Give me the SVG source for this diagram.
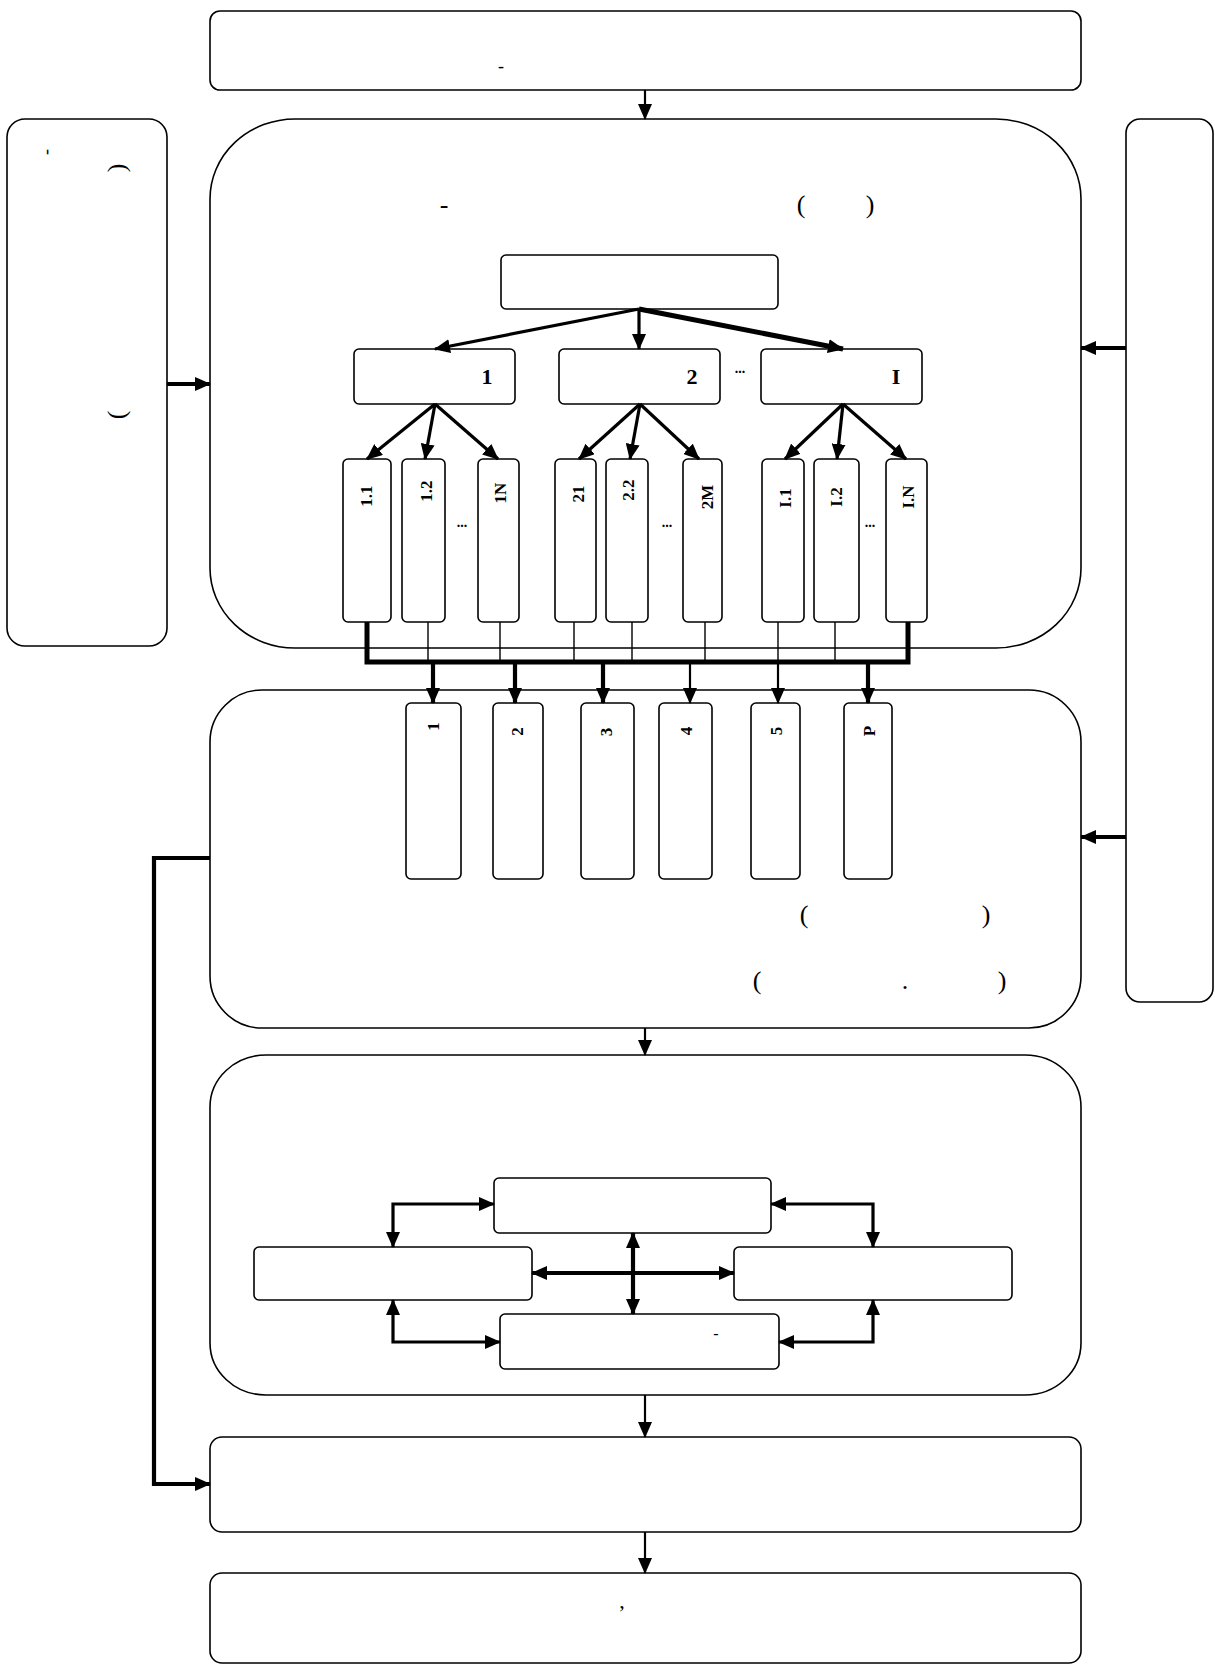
<svg xmlns="http://www.w3.org/2000/svg" width="1215" height="1666" viewBox="0 0 1215 1666">
  <style>
    .box { fill: #fff; stroke: #000; stroke-width: 1.6; }
    .t { font-family: "Liberation Serif", "Times New Roman", serif; fill: #000; }
    .b { font-weight: bold; }
    .lf { font-size: 17px; font-weight: bold; }
    .cn { fill: none; stroke: #000; stroke-linejoin: miter; }
    .w2 { stroke-width: 2.2; }
    .w3 { stroke-width: 3.2; }
    .w4 { stroke-width: 4.2; }
    .w5 { stroke-width: 5; }
    .thin { stroke-width: 1.4; }
  </style>
  <defs>
    <marker id="ah" viewBox="0 0 16 14" markerWidth="16" markerHeight="14" refX="15" refY="7" orient="auto-start-reverse" markerUnits="userSpaceOnUse">
      <path d="M0,0 L16,7 L0,14 z" fill="#000"/>
    </marker>
  </defs>

  <rect width="1215" height="1666" fill="#fff"/>

  <!-- top block -->
  <g id="n-top">
    <rect class="box" x="210" y="11" width="871" height="79" rx="10"/>
    <text class="t" x="501" y="72" font-size="18" text-anchor="middle" font-family="Liberation Sans, Arial, sans-serif">-</text>
  </g>

  <!-- left side block (vertical text) -->
  <g id="n-left">
    <rect class="box" x="7" y="119" width="160" height="527" rx="18"/>
    <text class="t" transform="translate(51.5,152) rotate(-90)" font-size="18" text-anchor="middle">-</text>
    <text class="t" transform="translate(125,168) rotate(-90)" font-size="26" text-anchor="middle">)</text>
    <text class="t" transform="translate(125,415) rotate(-90)" font-size="26" text-anchor="middle">(</text>
  </g>

  <!-- right side block -->
  <g id="n-right">
    <rect class="box" x="1126" y="119" width="87" height="883" rx="14"/>
  </g>

  <!-- main block 1 with hierarchy -->
  <g id="n-main1">
    <rect class="box" x="210" y="119" width="871" height="529" rx="85" ry="80"/>
    <text class="t" x="444" y="213" font-size="26" text-anchor="middle">-</text>
    <text class="t" x="801" y="213" font-size="26" text-anchor="middle">(</text>
    <text class="t" x="870" y="213" font-size="26" text-anchor="middle">)</text>
  </g>
  <g id="n-root">
    <rect class="box" x="501" y="255" width="277" height="54" rx="5"/>
  </g>
  <g id="n-g1">
    <rect class="box" x="354" y="349" width="161" height="55" rx="5"/>
    <text class="t b" x="487" y="384" font-size="22" text-anchor="middle">1</text>
  </g>
  <g id="n-g2">
    <rect class="box" x="559" y="349" width="161" height="55" rx="5"/>
    <text class="t b" x="692" y="384" font-size="22" text-anchor="middle">2</text>
  </g>
  <text class="t b" x="740" y="373" font-size="14" text-anchor="middle">...</text>
  <g id="n-g3">
    <rect class="box" x="761" y="349" width="161" height="55" rx="5"/>
    <text class="t b" x="896" y="384" font-size="22" text-anchor="middle">I</text>
  </g>

  <!-- leaf blocks -->
  <g id="n-l11">
    <rect class="box" x="343" y="459" width="48" height="163" rx="5"/>
    <text class="t lf" transform="translate(372,496) rotate(-90)" text-anchor="middle">1.1</text>
  </g>
  <g id="n-l12">
    <rect class="box" x="402" y="459" width="43" height="163" rx="5"/>
    <text class="t lf" transform="translate(432,491) rotate(-90)" text-anchor="middle">1.2</text>
  </g>
  <text class="t b" x="462" y="527" font-size="14" text-anchor="middle">...</text>
  <g id="n-l1n">
    <rect class="box" x="478" y="459" width="41" height="163" rx="5"/>
    <text class="t lf" transform="translate(506,493) rotate(-90)" text-anchor="middle">1N</text>
  </g>
  <g id="n-l21">
    <rect class="box" x="555" y="459" width="41" height="163" rx="5"/>
    <text class="t lf" transform="translate(584.4,494) rotate(-90)" text-anchor="middle">21</text>
  </g>
  <g id="n-l22">
    <rect class="box" x="606" y="459" width="42" height="163" rx="5"/>
    <text class="t lf" transform="translate(634,490) rotate(-90)" text-anchor="middle">2.2</text>
  </g>
  <text class="t b" x="667" y="527" font-size="14" text-anchor="middle">...</text>
  <g id="n-l2m">
    <rect class="box" x="683" y="459" width="39" height="163" rx="5"/>
    <text class="t lf" transform="translate(712.6,497) rotate(-90)" text-anchor="middle">2M</text>
  </g>
  <g id="n-li1">
    <rect class="box" x="762" y="459" width="42" height="163" rx="5"/>
    <text class="t lf" transform="translate(791,498) rotate(-90)" text-anchor="middle">I.1</text>
  </g>
  <g id="n-li2">
    <rect class="box" x="814" y="459" width="45" height="163" rx="5"/>
    <text class="t lf" transform="translate(841.6,497) rotate(-90)" text-anchor="middle">I.2</text>
  </g>
  <text class="t b" x="870" y="527" font-size="14" text-anchor="middle">...</text>
  <g id="n-lin">
    <rect class="box" x="886" y="459" width="41" height="163" rx="5"/>
    <text class="t lf" transform="translate(914.2,497) rotate(-90)" text-anchor="middle">I.N</text>
  </g>

  <!-- main block 2 with result columns -->
  <g id="n-main2">
    <rect class="box" x="210" y="690" width="871" height="338" rx="52"/>
    <text class="t" x="804" y="923" font-size="26" text-anchor="middle">(</text>
    <text class="t" x="986" y="923" font-size="26" text-anchor="middle">)</text>
    <text class="t" x="757" y="989" font-size="26" text-anchor="middle">(</text>
    <text class="t" x="905" y="989" font-size="26" text-anchor="middle">.</text>
    <text class="t" x="1002" y="989" font-size="26" text-anchor="middle">)</text>
  </g>
  <g id="n-r1">
    <rect class="box" x="406" y="703" width="55" height="176" rx="5"/>
    <text class="t b" transform="translate(438.6,726.5) rotate(-90)" font-size="17" text-anchor="middle">1</text>
  </g>
  <g id="n-r2">
    <rect class="box" x="493" y="703" width="50" height="176" rx="5"/>
    <text class="t b" transform="translate(523.2,731.5) rotate(-90)" font-size="17" text-anchor="middle">2</text>
  </g>
  <g id="n-r3">
    <rect class="box" x="581" y="703" width="53" height="176" rx="5"/>
    <text class="t b" transform="translate(612,732) rotate(-90)" font-size="17" text-anchor="middle">3</text>
  </g>
  <g id="n-r4">
    <rect class="box" x="659" y="703" width="53" height="176" rx="5"/>
    <text class="t b" transform="translate(691.6,731) rotate(-90)" font-size="17" text-anchor="middle">4</text>
  </g>
  <g id="n-r5">
    <rect class="box" x="751" y="703" width="49" height="176" rx="5"/>
    <text class="t b" transform="translate(781.6,731) rotate(-90)" font-size="17" text-anchor="middle">5</text>
  </g>
  <g id="n-rp">
    <rect class="box" x="844" y="703" width="48" height="176" rx="5"/>
    <text class="t b" transform="translate(874.6,731) rotate(-90)" font-size="17" text-anchor="middle">P</text>
  </g>

  <!-- main block 3 with four linked blocks -->
  <g id="n-main3">
    <rect class="box" x="210" y="1055" width="871" height="340" rx="56" ry="52"/>
  </g>
  <g id="n-c-top">
    <rect class="box" x="494" y="1178" width="277" height="55" rx="5"/>
  </g>
  <g id="n-c-left">
    <rect class="box" x="254" y="1247" width="278" height="53" rx="5"/>
  </g>
  <g id="n-c-right">
    <rect class="box" x="734" y="1247" width="278" height="53" rx="5"/>
  </g>
  <g id="n-c-bottom">
    <rect class="box" x="500" y="1314" width="279" height="55" rx="5"/>
    <text class="t" x="716" y="1339" font-size="16" text-anchor="middle">-</text>
  </g>

  <!-- lower blocks -->
  <g id="n-out1">
    <rect class="box" x="210" y="1437" width="871" height="95" rx="12"/>
  </g>
  <g id="n-out2">
    <rect class="box" x="210" y="1573" width="871" height="90" rx="12"/>
    <text class="t" x="622" y="1608" font-size="22" text-anchor="middle">,</text>
  </g>

  <!-- connectors -->
  <g id="connectors">
    <line class="cn w2" x1="645" y1="90" x2="645" y2="119" marker-end="url(#ah)"/>
    <line class="cn w4" x1="167" y1="384" x2="210" y2="384" marker-end="url(#ah)"/>
    <line class="cn w4" x1="1126" y1="348" x2="1081" y2="348" marker-end="url(#ah)"/>
    <line class="cn w4" x1="1126" y1="837" x2="1081" y2="837" marker-end="url(#ah)"/>

    <!-- root to groups -->
    <line class="cn w3" x1="639" y1="309" x2="435" y2="349" marker-end="url(#ah)"/>
    <line class="cn w3" x1="639" y1="309" x2="639" y2="349" marker-end="url(#ah)"/>
    <line class="cn w5" x1="639" y1="309" x2="843" y2="349" marker-end="url(#ah)"/>

    <!-- groups to leaves -->
    <line class="cn w3" x1="435" y1="404" x2="367" y2="459" marker-end="url(#ah)"/>
    <line class="cn w3" x1="435" y1="404" x2="425" y2="459" marker-end="url(#ah)"/>
    <line class="cn w3" x1="435" y1="404" x2="498" y2="459" marker-end="url(#ah)"/>
    <line class="cn w3" x1="640" y1="404" x2="579" y2="459" marker-end="url(#ah)"/>
    <line class="cn w3" x1="640" y1="404" x2="630" y2="459" marker-end="url(#ah)"/>
    <line class="cn w3" x1="640" y1="404" x2="699" y2="459" marker-end="url(#ah)"/>
    <line class="cn w3" x1="843" y1="404" x2="785" y2="459" marker-end="url(#ah)"/>
    <line class="cn w3" x1="843" y1="404" x2="837" y2="459" marker-end="url(#ah)"/>
    <line class="cn w3" x1="843" y1="404" x2="906" y2="459" marker-end="url(#ah)"/>

    <!-- collector bus -->
    <path class="cn w5" d="M367,622 V662 H908 V622"/>
    <path class="cn thin" d="M428,622 V662 M500,622 V662 M574,622 V662 M632,622 V662 M705,622 V662 M778,622 V662 M835,622 V662"/>
    <line class="cn w4" x1="433" y1="662" x2="433" y2="703" marker-end="url(#ah)"/>
    <line class="cn w4" x1="515" y1="662" x2="515" y2="703" marker-end="url(#ah)"/>
    <line class="cn w4" x1="603" y1="662" x2="603" y2="703" marker-end="url(#ah)"/>
    <line class="cn w2" x1="690" y1="662" x2="690" y2="703" marker-end="url(#ah)"/>
    <line class="cn w2" x1="778" y1="662" x2="778" y2="703" marker-end="url(#ah)"/>
    <line class="cn w4" x1="868" y1="662" x2="868" y2="703" marker-end="url(#ah)"/>

    <line class="cn w2" x1="645" y1="1028" x2="645" y2="1055" marker-end="url(#ah)"/>
    <path class="cn w4" d="M210,858 H154 V1484 H210" marker-end="url(#ah)"/>

    <!-- links between the four inner blocks -->
    <path class="cn w3" d="M494,1204 H393 V1247" marker-start="url(#ah)" marker-end="url(#ah)"/>
    <path class="cn w3" d="M771,1204 H873 V1247" marker-start="url(#ah)" marker-end="url(#ah)"/>
    <path class="cn w3" d="M393,1300 V1342 H500" marker-start="url(#ah)" marker-end="url(#ah)"/>
    <path class="cn w3" d="M873,1300 V1342 H779" marker-start="url(#ah)" marker-end="url(#ah)"/>
    <line class="cn w4" x1="633" y1="1233" x2="633" y2="1314" marker-start="url(#ah)" marker-end="url(#ah)"/>
    <line class="cn w4" x1="532" y1="1273" x2="734" y2="1273" marker-start="url(#ah)" marker-end="url(#ah)"/>

    <line class="cn w2" x1="645" y1="1395" x2="645" y2="1437" marker-end="url(#ah)"/>
    <line class="cn w2" x1="645" y1="1532" x2="645" y2="1573" marker-end="url(#ah)"/>
  </g>
</svg>
